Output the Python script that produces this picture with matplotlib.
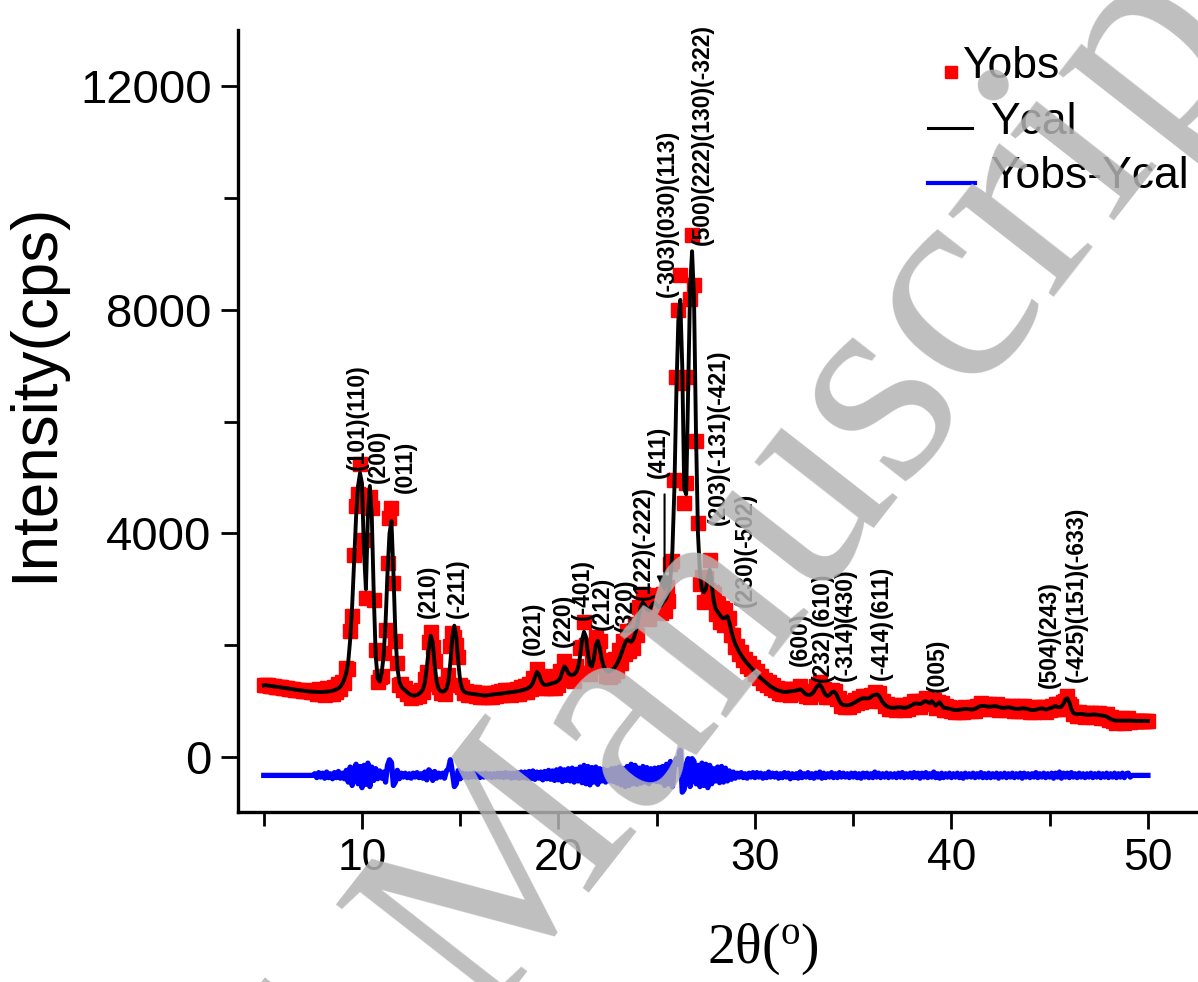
import numpy as np
import matplotlib
matplotlib.use("Agg")
import matplotlib.pyplot as plt
from matplotlib.ticker import MultipleLocator
from matplotlib.lines import Line2D

# ---------------- data ----------------
scan_start = 5.0      # 2theta of first sample (deg)
scan_step = 0.1       # scan step (deg)

# calculated profile (cps), one value per scan step from 5.0 to 50.0
ycal = [
    1280, 1285, 1280, 1275, 1270, 1265, 1260, 1255, 1250, 1245,   # 5
    1240, 1235, 1228, 1222, 1215, 1210, 1205, 1200, 1195, 1190,   # 6
    1185, 1180, 1175, 1172, 1170, 1168, 1165, 1163, 1162, 1162,   # 7
    1163, 1165, 1168, 1172, 1178, 1185, 1195, 1210, 1230, 1260,   # 8
    1310, 1390, 1500, 1700, 2100, 2700, 3500, 4300, 4850, 5080,   # 9
    4900, 3700, 3000, 4300, 4850, 4300, 2900, 1800, 1400, 1350,   # 10
    1500, 1800, 2400, 3300, 4000, 4220, 3300, 2200, 1600, 1350,   # 11
    1260, 1220, 1190, 1160, 1130, 1110, 1100, 1100, 1110, 1130,   # 12
    1160, 1210, 1330, 1600, 1950, 2170, 2050, 1650, 1350, 1220,   # 13
    1180, 1170, 1180, 1220, 1350, 1700, 2150, 2350, 2150, 1700,   # 14
    1350, 1220, 1170, 1150, 1140, 1135, 1130, 1125, 1120, 1115,   # 15
    1110, 1105, 1100, 1100, 1105, 1110, 1115, 1120, 1125, 1130,   # 16
    1130, 1135, 1140, 1145, 1150, 1155, 1160, 1165, 1170, 1175,   # 17
    1180, 1190, 1200, 1210, 1220, 1240, 1270, 1330, 1430, 1520,   # 18
    1480, 1380, 1310, 1290, 1290, 1300, 1310, 1320, 1330, 1345,   # 19
    1370, 1420, 1530, 1620, 1580, 1500, 1470, 1470, 1480, 1520,   # 20
    1600, 1800, 2100, 2240, 2150, 1850, 1650, 1620, 1750, 2000,   # 21
    2080, 1950, 1750, 1620, 1560, 1530, 1530, 1550, 1580, 1620,   # 22
    1680, 1760, 1850, 1950, 2050, 2100, 2080, 2060, 2100, 2200,   # 23
    2350, 2550, 2700, 2760, 2720, 2640, 2620, 2680, 2740, 2760,   # 24
    2720, 2680, 2700, 2760, 2800, 2850, 2950, 3200, 3700, 4800,   # 25
    6500, 7800, 8180, 7000, 4800, 4700, 6500, 8400, 9050, 8200,   # 26
    5800, 4000, 3300, 3000, 2950, 3000, 3200, 3350, 3100, 2800,   # 27
    2650, 2600, 2550, 2500, 2480, 2500, 2520, 2400, 2250, 2120,   # 28
    2020, 1950, 1880, 1820, 1770, 1720, 1680, 1640, 1600, 1560,   # 29
    1520, 1480, 1440, 1410, 1380, 1350, 1320, 1290, 1260, 1240,   # 30
    1220, 1200, 1190, 1180, 1170, 1165, 1165, 1170, 1175, 1180,   # 31
    1180, 1190, 1200, 1210, 1190, 1150, 1120, 1110, 1110, 1130,   # 32
    1170, 1230, 1280, 1290, 1250, 1170, 1110, 1090, 1110, 1150,   # 33
    1170, 1150, 1080, 1000, 950, 930, 925, 925, 930, 940,         # 34
    960, 980, 1000, 1020, 1040, 1050, 1050, 1045, 1050, 1070,     # 35
    1100, 1110, 1120, 1100, 1040, 980, 940, 910, 895, 885,        # 36
    880, 880, 885, 890, 890, 885, 880, 885, 895, 910,             # 37
    930, 950, 960, 955, 945, 960, 990, 1000, 980, 960,            # 38
    1000, 960, 920, 950, 980, 930, 880, 880, 870, 860,            # 39
    855, 845, 840, 840, 845, 850, 855, 860, 860, 855,             # 40
    850, 850, 860, 880, 900, 910, 915, 910, 905, 900,             # 41
    900, 905, 910, 905, 895, 885, 880, 880, 885, 890,             # 42
    885, 875, 865, 860, 860, 865, 870, 870, 865, 855,             # 43
    845, 840, 840, 845, 855, 865, 870, 860, 850, 855,             # 44
    870, 880, 900, 910, 895, 890, 900, 950, 1030, 1050,           # 45
    980, 860, 790, 770, 765, 770, 770, 765, 760, 755,             # 46
    755, 755, 760, 760, 755, 750, 745, 740, 735, 720,             # 47
    700, 680, 665, 655, 650, 650, 650, 650, 650, 650,             # 48
    650, 650, 648, 645, 645, 645, 645, 645, 645, 645,             # 49
    645,                                                          # 50
]

# observed minus calculated (cps), same scan steps
obs_minus_cal = [
    0, 0, 0, 0, 0, 0, 0, 0, 0, 0,                                 # 5
    0, 0, 0, 0, 0, 0, 0, 0, 0, 0,                                 # 6
    0, 0, 0, 0, 0, 0, 30, -40, 50, -30,                           # 7
    40, -50, 60, -40, 30, -60, 50, -40, 70, -50,                  # 8
    40, -60, 90, -120, 150, -180, 120, 200, -150, 160,            # 9
    -220, 180, -160, 220, -200, 150, -90, 120, -60, 80,           # 10
    -50, 60, -120, 180, 280, 230, -180, -120, 90, -60,            # 11
    40, -30, 40, -40, 30, -50, 40, -30, 50, -40,                  # 12
    30, -50, 60, -80, 100, 60, -90, 70, -50, 40,                  # 13
    -30, 40, -50, 80, 120, 280, 60, -200, -150, 90,               # 14
    -60, 40, -30, 30, -40, 30, -30, 40, -30, 30,                  # 15
    -40, 30, -30, 40, -30, 30, -40, 30, -30, 40,                  # 16
    -30, 40, -40, 50, -30, 40, -50, 40, -40, 50,                  # 17
    -50, 60, -40, 60, -50, 70, -60, 80, -70, 60,                  # 18
    -50, 60, -80, 70, -60, 90, -70, 80, -90, 100,                 # 19
    -80, 120, -110, 100, -90, 120, -100, 130, -120, 110,          # 20
    -100, 150, -130, 180, -150, 160, -170, 140, -120, 150,        # 21
    -160, 120, -100, 110, -120, 90, -100, 120, -110, 130,         # 22
    -140, 150, -170, 120, -200, 160, -180, 200, -150, 180,        # 23
    -160, 130, -140, 160, -120, 140, -150, 120, -100, 130,        # 24
    -110, 140, -120, 160, -180, 200, -150, 250, -200, 150,        # 25
    300, 200, 450, -300, -250, 200, 300, -200, 300, 250,          # 26
    -150, 180, -200, 220, -180, 200, -220, 180, -150, 120,        # 27
    -100, 150, -130, 160, -120, 130, -100, 80, -70, 60,           # 28
    -50, 40, -30, 50, -40, 30, -50, 40, -30, 50,                  # 29
    -40, 50, -30, 40, -50, 30, -40, 60, -30, 40,                  # 30
    -30, 40, -50, 30, -40, 50, -30, 40, -60, 30,                  # 31
    -40, 30, -50, 60, -40, 30, -30, 50, -40, 30,                  # 32
    -50, 40, -30, 60, -50, 40, -40, 30, -30, 50,                  # 33
    -40, 30, -40, 50, -30, 40, -30, 30, -40, 40,                  # 34
    -30, 40, -40, 30, -50, 40, -30, 40, -40, 30,                  # 35
    -40, 60, -30, 40, -40, 30, -30, 40, -40, 30,                  # 36
    -30, 30, -40, 40, -30, 50, -40, 30, -30, 40,                  # 37
    -40, 50, -30, 40, -50, 40, -30, 50, -40, 30,                  # 38
    -30, 60, -40, 30, -50, 40, -40, 30, -30, 40,                  # 39
    -40, 30, -30, 40, -40, 30, -50, 40, -30, 30,                  # 40
    -30, 40, -40, 30, -30, 50, -40, 30, -40, 40,                  # 41
    -40, 30, -30, 40, -50, 30, -30, 40, -40, 30,                  # 42
    -30, 40, -40, 30, -30, 40, -50, 40, -30, 30,                  # 43
    -40, 30, -30, 50, -40, 30, -30, 40, -40, 30,                  # 44
    -30, 40, -50, 40, -30, 60, -50, 40, -30, 40,                  # 45
    -40, 50, -30, 30, -40, 40, -30, 30, -40, 30,                  # 46
    -30, 40, -40, 30, -30, 40, -40, 30, -30, 40,                  # 47
    -40, 30, -30, 40, -40, 30, -30, 40, -40, 30,                  # 48
    40, -30, 0, 0, 0, 0, 0, 0, 0, 0,                              # 49
    0,                                                            # 50
]

diff_offset = -330    # vertical shift of the difference curve

# reflection labels: (text, 2theta, intensity at label bottom)
hkl_labels = [
    ("(101)(110)", 9.75, 5140),
    ("(200)", 10.85, 4905),
    ("(011)", 12.19, 4726),
    ("(210)", 13.36, 2488),
    ("(-211)", 14.83, 2488),
    ("(021)", 18.70, 1826),
    ("(220)", 20.23, 1969),
    ("(-401)", 21.20, 2452),
    ("(212)", 22.25, 2273),
    ("(320)", 23.40, 2238),
    ("(122)(-222)", 24.30, 2810),
    ("(411)", 25.10, 5000),
    ("(-303)(030)(113)", 25.52, 8234),
    ("(500)(222)(130)(-322)", 27.30, 9165),
    ("(203)(-131)(-421)", 28.12, 4153),
    ("(230)(-502)", 29.49, 2685),
    ("(600)", 32.29, 1630),
    ("(232)", 33.41, 1343),
    ("(610)", 33.41, 2350),
    ("(-314)", 34.58, 1360),
    ("(430)", 34.58, 2420),
    ("(-414)", 36.46, 1380),
    ("(611)", 36.46, 2480),
    ("(005)", 39.31, 1160),
    ("(504)(243)", 45.00, 1235),
    ("(-425)(151)(-633)", 46.34, 1343),
]
arrow_411 = (25.40, 4750, 2900)   # 2theta, start, tip

n_pts = len(ycal)
if len(obs_minus_cal) != n_pts:
    raise ValueError("length mismatch %d %d" % (n_pts, len(obs_minus_cal)))

two_theta = scan_start + scan_step * np.arange(n_pts)
ycal_a = np.array(ycal, dtype=float)
yobs_a = ycal_a + np.array(obs_minus_cal, dtype=float)
ydiff = yobs_a - ycal_a + diff_offset

# ---------------- figure ----------------
plt.rcParams['font.family'] = ['Liberation Sans', 'DejaVu Sans']
plt.rcParams['mathtext.fontset'] = 'custom'
plt.rcParams['mathtext.rm'] = 'Liberation Serif'
plt.rcParams['mathtext.it'] = 'Liberation Serif:italic'

W, H = 1198, 982
fig = plt.figure(figsize=(W / 100, H / 100), dpi=100)
ax = fig.add_axes([238 / W, 1 - 812 / H, (W - 238) / W, (812 - 30) / H])

ax.plot(two_theta, yobs_a, linestyle='none', marker='s', ms=9.5,
        color='#ff0000', mec='#ff0000', zorder=2)
ax.plot(two_theta, ycal_a, color='black', lw=2.8, zorder=3)
ax.plot(two_theta, ydiff, color='#0000ff', lw=3.8, zorder=2)

ax.set_xlim(3.69, 52.55)
ax.set_ylim(-985, 13010)

for s in ('top', 'right'):
    ax.spines[s].set_visible(False)
for s in ('left', 'bottom'):
    ax.spines[s].set_linewidth(2.4)

ax.xaxis.set_major_locator(MultipleLocator(10))
ax.xaxis.set_minor_locator(MultipleLocator(5))
ax.yaxis.set_major_locator(MultipleLocator(4000))
ax.yaxis.set_minor_locator(MultipleLocator(2000))
ax.tick_params(which='major', direction='out', length=12, width=2.0, pad=7)
ax.tick_params(which='minor', direction='out', length=10, width=2.0)
ax.tick_params(axis='x', labelsize=32)
ax.tick_params(axis='y', labelsize=34)

ax.set_ylabel("Intensity(cps)", fontsize=46)
ax.yaxis.set_label_coords(-0.18, 0.537)
ax.set_xlabel(r"2θ($^{\rm o}$)", fontsize=40, family='Liberation Serif')
ax.xaxis.set_label_coords(0.547, -0.14)

for txt, xx, yy in hkl_labels:
    ax.text(xx, yy, txt, rotation=90, ha='center', va='bottom',
            fontsize=16.5, fontweight='bold', zorder=5)

ax.annotate("", xy=(arrow_411[0], arrow_411[2]),
            xytext=(arrow_411[0], arrow_411[1]),
            arrowprops=dict(arrowstyle='-|>', color='black', lw=1.5,
                            mutation_scale=24), zorder=6)

# legend (drawn by hand, Origin style)
def fx(px):
    return px / W

def fy(py):
    return 1 - py / H

fig.add_artist(Line2D([fx(951)], [fy(72)], marker='s', ms=8,
                      color='#ff0000', linestyle='none',
                      transform=fig.transFigure))
fig.text(fx(962), fy(66), "Yobs", fontsize=32, va='center', ha='left')
fig.add_artist(Line2D([fx(928), fx(972)], [fy(128), fy(128)], color='black',
                      lw=2.2, transform=fig.transFigure))
fig.text(fx(990), fy(122), "Ycal", fontsize=32, va='center', ha='left')
fig.add_artist(Line2D([fx(928), fx(975)], [fy(183), fy(183)], color='#0000ff',
                      lw=3.0, transform=fig.transFigure))
fig.text(fx(990), fy(176), "Yobs-Ycal", fontsize=32, va='center', ha='left')

# watermark
fig.text(0.396, 0.059, "Accepted Manuscript", rotation=52, rotation_mode='anchor',
         ha='center', va='center', fontsize=210, family='Liberation Serif',
         color='#b4b4b4', alpha=0.85, zorder=10)

fig.savefig("out.png", dpi=100)
